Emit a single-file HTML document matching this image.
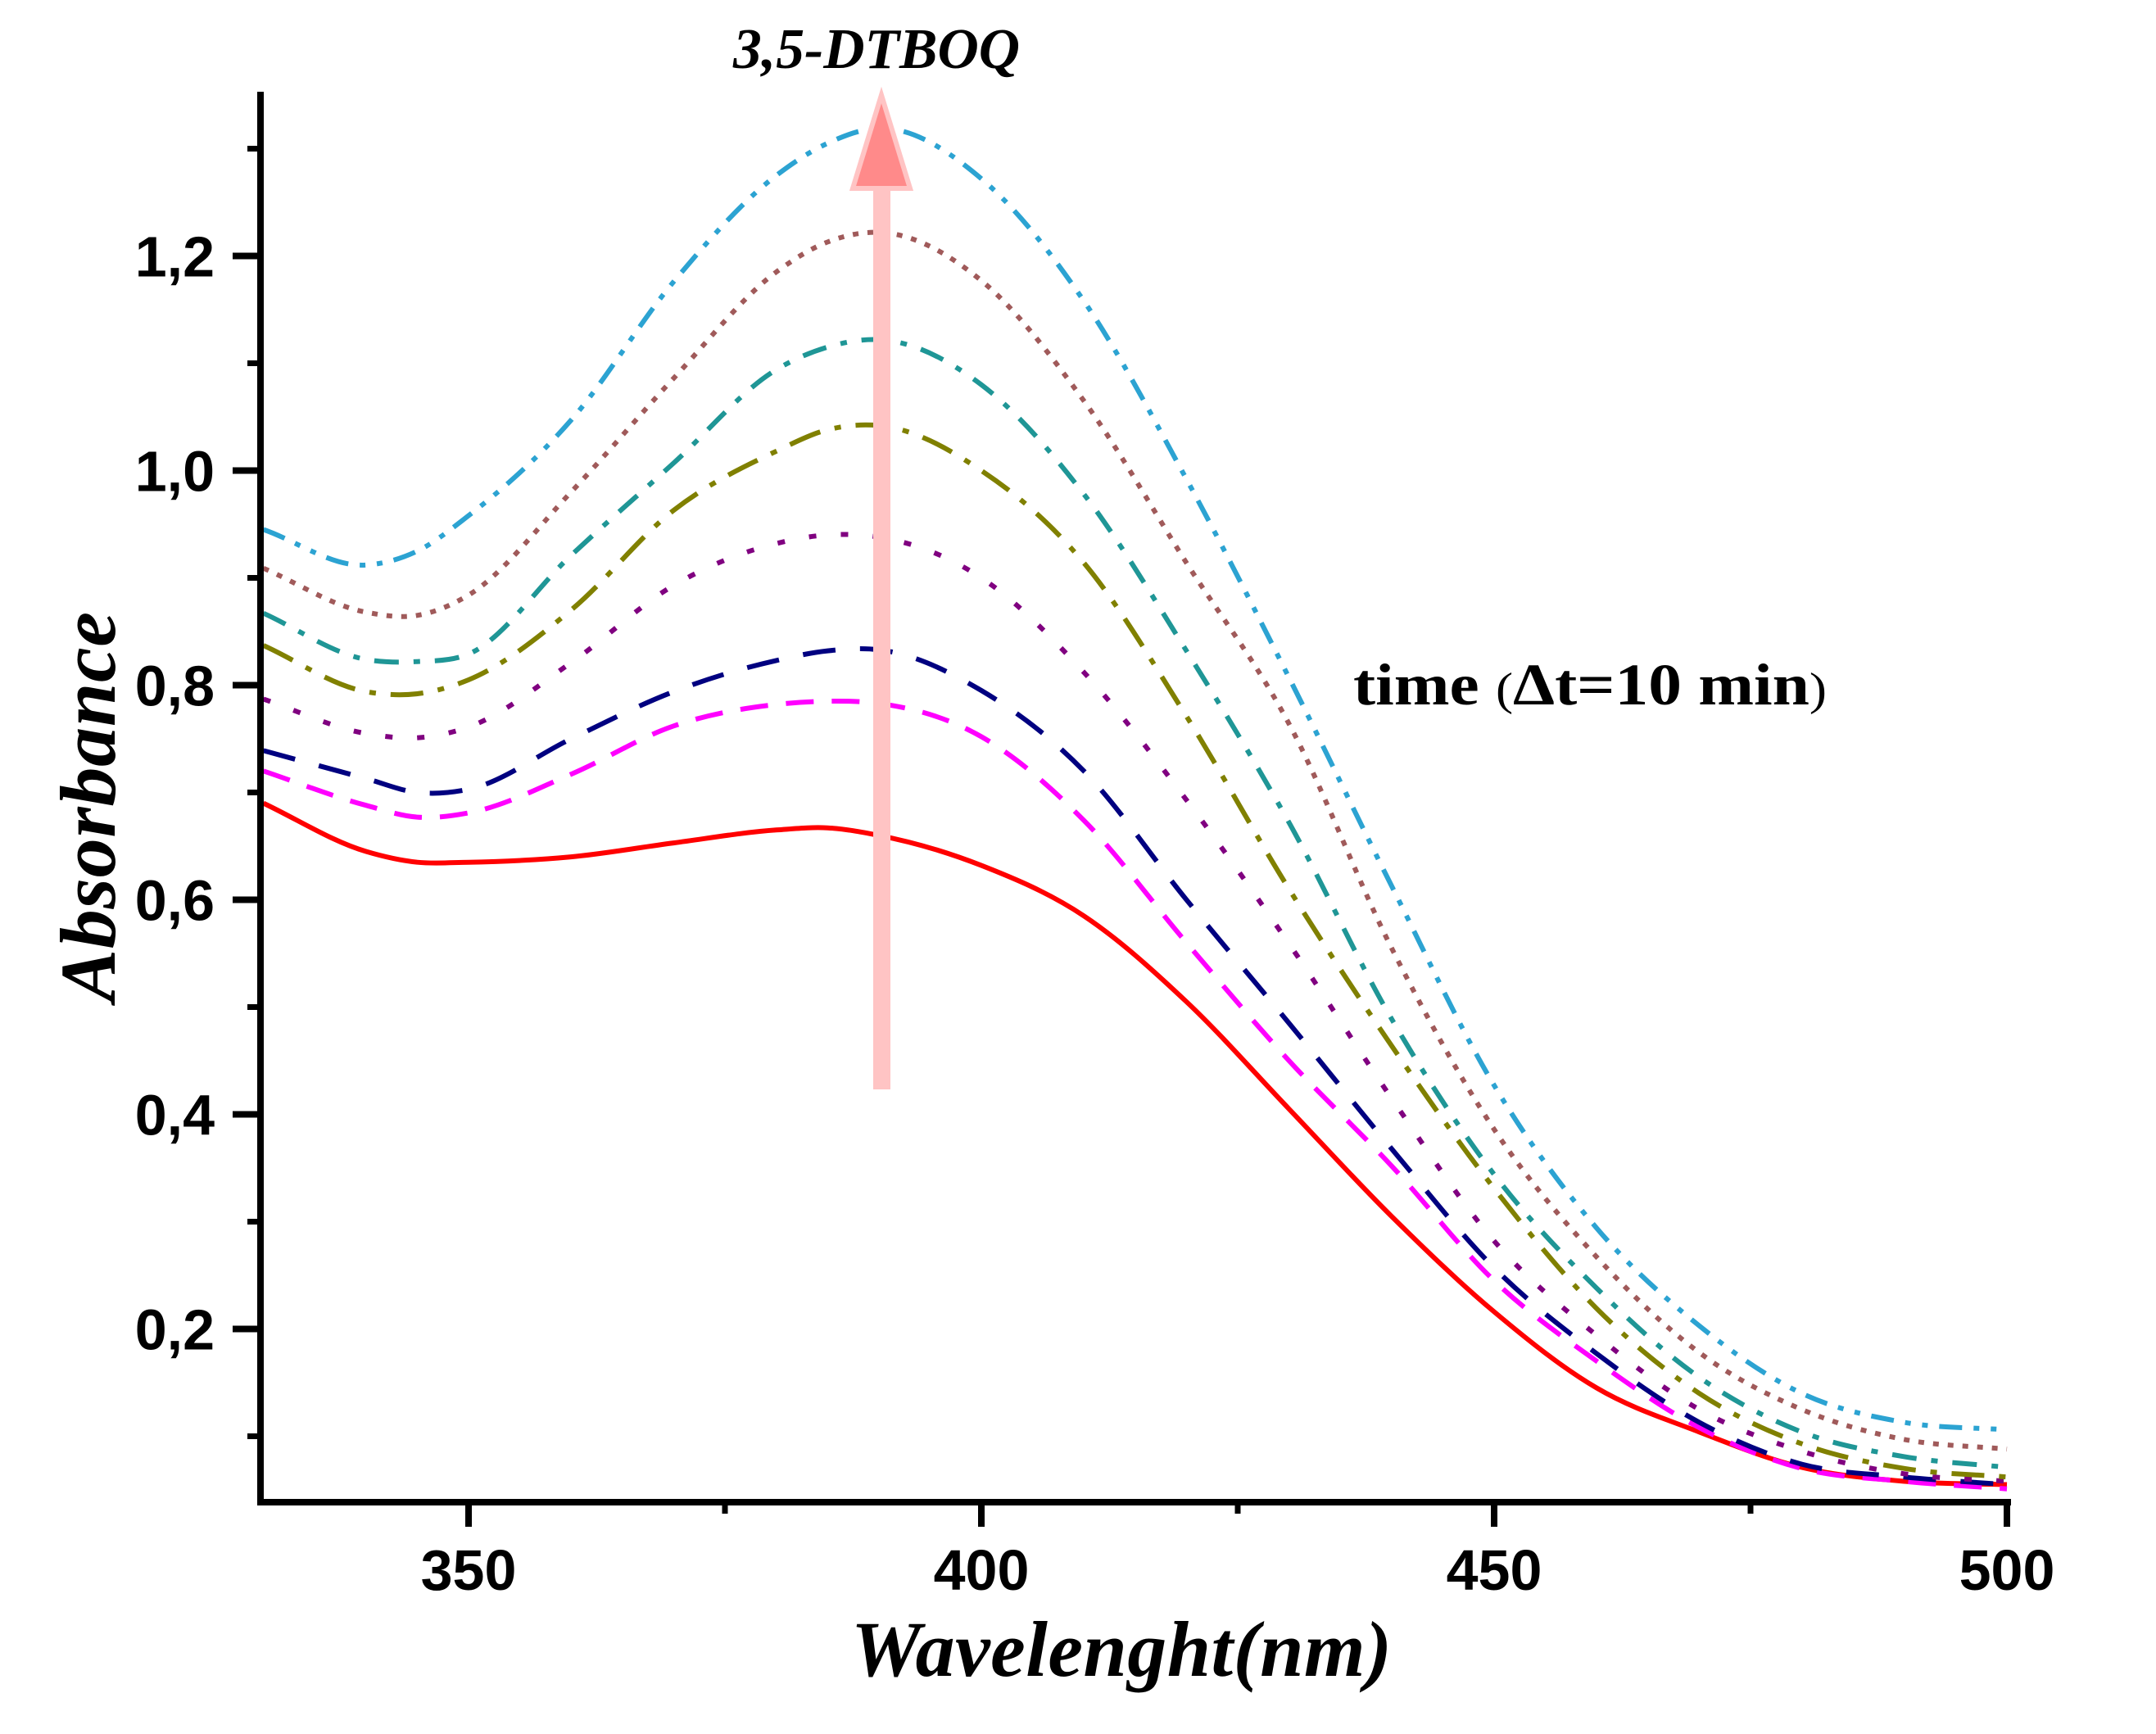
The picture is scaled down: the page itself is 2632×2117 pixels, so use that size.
<!DOCTYPE html>
<html><head><meta charset="utf-8"><style>
html,body{margin:0;padding:0;background:#fff;}
svg{display:block;}
</style></head><body>
<svg id="chart" width="2632" height="2117" viewBox="0 0 2632 2117" xmlns="http://www.w3.org/2000/svg">
<rect x="0" y="0" width="2632" height="2117" fill="#fff"/>
<g id="series"></g>
<g id="arrow">
<rect x="1066" y="225" width="21" height="1105" fill="#ffc4c4"/>
<polygon points="1076,116 1111,230 1041,230" fill="#ff8a8a" stroke="#ffc4c4" stroke-width="6"/>
</g>
<g id="axes"></g>
<text x="1070" y="83" font-family="Liberation Serif, serif" font-style="italic" font-weight="bold" font-size="70" text-anchor="middle" textLength="350" lengthAdjust="spacingAndGlyphs">3,5-DTBOQ</text>
<text x="1652" y="860" font-family="Liberation Serif, serif" font-weight="bold" font-size="72" textLength="578" lengthAdjust="spacingAndGlyphs">time <tspan font-weight="normal" font-size="56">(</tspan>Δt=10 min<tspan font-weight="normal" font-size="56">)</tspan></text>
<text x="1369" y="2046" font-family="Liberation Serif, serif" font-weight="bold" font-style="italic" font-size="96" text-anchor="middle" textLength="660">Wavelenght(nm)</text>
<text transform="translate(140,985) rotate(-90)" font-family="Liberation Serif, serif" font-weight="bold" font-style="italic" font-size="96" text-anchor="middle" textLength="476">Absorbance</text>
</svg>
<script>
const wavelengths = [330,340,345,350,360,370,380,385,390,400,410,420,430,440,450,460,470,480,490,500];
const sRed     = [0.69,0.645,0.635,0.635,0.64,0.653,0.665,0.667,0.66,0.632,0.585,0.505,0.405,0.305,0.216,0.145,0.104,0.071,0.058,0.055];
const sMagenta = [0.72,0.688,0.677,0.681,0.717,0.762,0.782,0.785,0.783,0.752,0.674,0.56,0.45,0.352,0.245,0.17,0.108,0.07,0.058,0.051];
const sNavy    = [0.739,0.713,0.70,0.703,0.75,0.794,0.823,0.832,0.833,0.795,0.72,0.60,0.485,0.368,0.257,0.177,0.113,0.074,0.062,0.055];
const sPurple  = [0.787,0.755,0.751,0.761,0.821,0.893,0.932,0.94,0.938,0.90,0.812,0.693,0.559,0.415,0.282,0.194,0.125,0.086,0.065,0.058];
const sOlive   = [0.837,0.794,0.792,0.805,0.87,0.963,1.018,1.038,1.042,1.0,0.914,0.771,0.61,0.464,0.331,0.219,0.14,0.093,0.07,0.062];
const sTeal    = [0.867,0.824,0.822,0.829,0.921,1.007,1.094,1.115,1.122,1.08,0.978,0.832,0.672,0.489,0.344,0.238,0.155,0.104,0.081,0.071];
const sBrown   = [0.909,0.868,0.865,0.884,0.98,1.086,1.185,1.213,1.222,1.177,1.065,0.914,0.764,0.555,0.386,0.267,0.178,0.125,0.097,0.088];
const sBlue    = [0.945,0.912,0.925,0.958,1.047,1.176,1.275,1.305,1.319,1.272,1.158,0.992,0.807,0.613,0.427,0.294,0.203,0.14,0.113,0.106];
const yTicks = [0.2,0.4,0.6,0.8,1.0,1.2];
const yTickLabels = ["0,2","0,4","0,6","0,8","1,0","1,2"];
const yMinorTicks = [0.1,0.3,0.5,0.7,0.9,1.1,1.3];
const xTicks = [350,400,450,500];
const xTickLabels = ["350","400","450","500"];
const xMinorTicks = [375,425,475];

const NS = "http://www.w3.org/2000/svg";
function X(w){ return 572 + (w-350)*12.52; }
function Y(v){ return 1884.5 - 1310*v; }
function mk(tag, attrs){ const e=document.createElementNS(NS,tag); for(const k in attrs) e.setAttribute(k,attrs[k]); return e; }

function pathFor(vals){
  const n = wavelengths.length;
  const xs = wavelengths, ys = vals;
  const m = [];
  for(let i=0;i<n;i++){
    if(i===0) m.push((ys[1]-ys[0])/(xs[1]-xs[0]));
    else if(i===n-1) m.push((ys[n-1]-ys[n-2])/(xs[n-1]-xs[n-2]));
    else {
      const d0=(ys[i]-ys[i-1])/(xs[i]-xs[i-1]), d1=(ys[i+1]-ys[i])/(xs[i+1]-xs[i]);
      const h0=xs[i]-xs[i-1], h1=xs[i+1]-xs[i];
      m.push((d0*h1+d1*h0)/(h0+h1));
    }
  }
  let d = "M"+X(xs[0]).toFixed(1)+","+Y(ys[0]).toFixed(1);
  for(let i=0;i<n-1;i++){
    const h = xs[i+1]-xs[i];
    const c1x = xs[i]+h/3, c1y = ys[i]+m[i]*h/3;
    const c2x = xs[i+1]-h/3, c2y = ys[i+1]-m[i+1]*h/3;
    d += " C"+X(c1x).toFixed(1)+","+Y(c1y).toFixed(1)+" "+X(c2x).toFixed(1)+","+Y(c2y).toFixed(1)+" "+X(xs[i+1]).toFixed(1)+","+Y(ys[i+1]).toFixed(1);
  }
  return d;
}
const series = document.getElementById('series');
const defs = [
  [sRed,'#ff0000','','series-t0'],
  [sMagenta,'#ff00ff','34 22','series-t1'],
  [sNavy,'#000080','40 30','series-t2'],
  [sPurple,'#800080','9 30','series-t3'],
  [sOlive,'#808000','40 18 8 18','series-t4'],
  [sTeal,'#1f9696','30 18 8 18','series-t5'],
  [sBrown,'#a05a5a','7 11','series-t6'],
  [sBlue,'#2ca3d2','28 14 7 14 7 14','series-t7']
];
for(const [vals,col,dash,name] of defs){
  const a = {d:pathFor(vals), fill:'none', stroke:col, 'stroke-width':6};
  if(dash) a['stroke-dasharray']=dash;
  const el = mk('path',a);
  
  
  series.appendChild(el);
}

const axes = document.getElementById('axes');
const yAxis = mk('line',{x1:318,y1:112,x2:318,y2:1838,stroke:'#000','stroke-width':8});


axes.appendChild(yAxis);
const xAxis = mk('line',{x1:314,y1:1834,x2:2455,y2:1834,stroke:'#000','stroke-width':8});


axes.appendChild(xAxis);

yTicks.forEach((v,i)=>{
  const t = mk('line',{x1:284,y1:Y(v),x2:318,y2:Y(v),stroke:'#000','stroke-width':8});
  
  
  axes.appendChild(t);
  const l = mk('text',{x:262,y:Y(v)+25,'text-anchor':'end','font-family':'Liberation Sans, sans-serif','font-weight':'bold','font-size':70});
  l.textContent = yTickLabels[i];
  
  
  axes.appendChild(l);
});
yMinorTicks.forEach(v=>{
  const t = mk('line',{x1:302,y1:Y(v),x2:318,y2:Y(v),stroke:'#000','stroke-width':7});
  
  
  axes.appendChild(t);
});
xTicks.forEach((w,i)=>{
  const t = mk('line',{x1:X(w),y1:1834,x2:X(w),y2:1864,stroke:'#000','stroke-width':8});
  
  
  axes.appendChild(t);
  const l = mk('text',{x:X(w),y:1941,'text-anchor':'middle','font-family':'Liberation Sans, sans-serif','font-weight':'bold','font-size':70});
  l.textContent = xTickLabels[i];
  
  
  axes.appendChild(l);
});
xMinorTicks.forEach(w=>{
  const t = mk('line',{x1:X(w),y1:1834,x2:X(w),y2:1848,stroke:'#000','stroke-width':7});
  
  
  axes.appendChild(t);
});
</script>
</body></html>
